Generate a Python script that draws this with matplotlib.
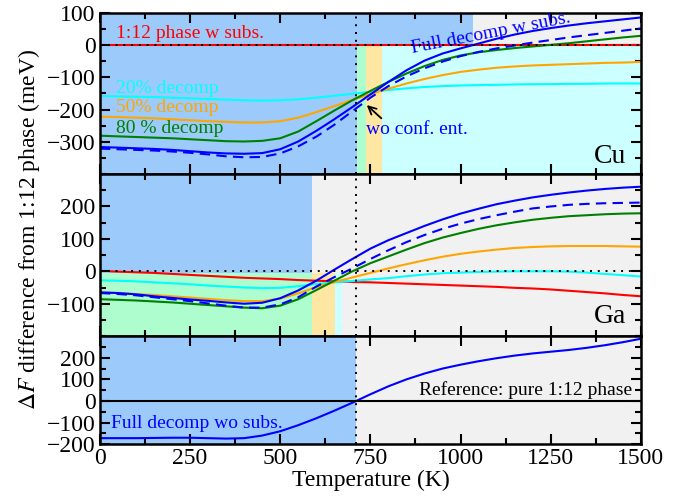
import matplotlib.pyplot as plt
from matplotlib.ticker import MultipleLocator

plt.rcParams['font.family'] = ['Liberation Serif', 'DejaVu Serif']
plt.rcParams['mathtext.fontset'] = 'stix'

# --- data (meV) ---
T = [0, 50, 100, 150, 200, 250, 300, 350, 400, 450, 500, 550, 600, 650, 700, 750,
     800, 850, 900, 950, 1000, 1050, 1100, 1150, 1200, 1250, 1300, 1350, 1400, 1450, 1500]
T_red = [30] + T[1:]

# Cu substitution
cu_red = [0] * len(T)
cu_20 = [-158, -159, -160, -161, -163, -165, -167, -169, -171, -172, -171, -168, -163, -157, -151, -145,
         -139, -134, -130, -127, -125, -124, -123, -122, -121, -121, -120, -120, -119, -119, -119]
cu_50 = [-222, -223, -225, -227, -230, -233, -236, -238, -240, -240, -236, -225, -208, -189, -170, -152,
         -135, -119, -105, -93, -83, -76, -70, -66, -63, -61, -59, -57, -55, -54, -52]
cu_80 = [-281, -283, -285, -287, -289, -292, -295, -298, -299, -297, -289, -268, -236, -203, -171, -142,
         -114, -88, -65, -46, -32, -22, -15, -9, -4, 1, 6, 12, 18, 24, 29]
cu_full = [-316, -318, -320, -322, -325, -329, -333, -336, -337, -335, -323, -299, -266, -230, -192, -153,
           -114, -78, -48, -26, -10, 5, 20, 33, 44, 53, 61, 68, 74, 80, 86]
cu_full_noconf = [-321, -323, -325, -327, -330, -334, -339, -345, -348, -347, -336, -314, -284, -247, -205, -163,
                  -127, -97, -72, -51, -34, -21, -10, -1, 8, 16, 24, 31, 38, 45, 52]

# Ga substitution
ga_red = [0, -1, -3, -5, -8, -11, -14, -17, -20, -22, -24, -27, -29, -31, -33, -34,
          -36, -38, -40, -42, -44, -46, -48, -51, -53, -56, -60, -64, -68, -73, -77]
ga_20 = [-28, -29, -31, -34, -37, -40, -44, -47, -50, -52, -51, -46, -39, -34, -30, -25,
         -21, -15, -10, -6, -4, -2, -1, 0, 0, 0, -1, -4, -8, -12, -16]
ga_50 = [-65, -67, -70, -73, -77, -81, -85, -89, -92, -92, -84, -68, -49, -33, -19, -5,
         9, 22, 34, 45, 54, 61, 67, 72, 75, 77, 78, 78, 78, 77, 76]
ga_80 = [-86, -88, -90, -93, -96, -100, -104, -108, -112, -114, -106, -86, -58, -29, 0, 25,
         46, 67, 87, 104, 118, 131, 142, 151, 159, 165, 170, 173, 176, 178, 179]
ga_full = [-65, -67, -71, -77, -82, -87, -91, -96, -100, -97, -83, -59, -29, 5, 38, 70,
           96, 118, 140, 160, 178, 193, 207, 218, 228, 236, 243, 249, 254, 258, 261]
ga_full_noconf = [-67, -70, -74, -80, -86, -92, -99, -106, -112, -112, -102, -80, -47, -18, 9, 38,
                  65, 90, 112, 131, 147, 161, 173, 184, 194, 200, 205, 208, 210, 211, 212]

# full decomposition without substitution
wo_full = [-172, -172, -172, -171, -170, -170, -172, -174, -172, -160, -140, -112, -80, -45, -8, 31,
           68, 100, 127, 150, 168, 184, 198, 210, 220, 228, 236, 246, 258, 272, 288]

T_c = 710  # transition temperature (dotted line)

# background regions: (x0, x1, y0, y1, colour)
BLUE, GRAY, GREEN, ORANGE, CYAN = '#9ccbfb', '#f1f1f1', '#adfdcf', '#fee6a3', '#ccffff'
cu_regions = [(0, 1034, 0, 100, BLUE), (1034, 1500, 0, 100, GRAY),
              (0, 712, -400, 0, BLUE), (712, 737, -400, 0, GREEN),
              (737, 781, -400, 0, ORANGE), (781, 1500, -400, 0, CYAN)]
ga_regions = [(0, 588, -5, 300, BLUE), (588, 1500, -5, 300, GRAY),
              (0, 588, -200, -5, GREEN), (588, 652, -200, -5, ORANGE),
              (652, 670, -200, -5, CYAN), (670, 1500, -200, -5, GRAY)]
wo_regions = [(0, T_c, -200, 300, BLUE), (T_c, 1500, -200, 300, GRAY)]

fig = plt.figure(figsize=(6.84, 4.98), dpi=100)
gs = fig.add_gridspec(3, 1, height_ratios=[161, 162, 108], hspace=0,
                      left=0.146, right=0.937, top=0.974, bottom=0.108)
axes = [fig.add_subplot(gs[i]) for i in range(3)]

lw = 1.5
for ax, regions in zip(axes, [cu_regions, ga_regions, wo_regions]):
    for x0, x1, y0, y1, c in regions:
        ax.fill_between([x0, x1], y0, y1, color=c, lw=0, zorder=0)
    ax.axvline(T_c, color='k', ls=(0, (1, 3)), lw=1.4, zorder=5)

# Cu panel
ax = axes[0]
ax.plot(T_red, cu_red, color='red', lw=lw)
ax.axhline(0, color='k', ls=(0, (1, 3)), lw=1.4, zorder=4)
ax.plot(T, cu_20, color='cyan', lw=lw)
ax.plot(T, cu_50, color='orange', lw=lw)
ax.plot(T, cu_80, color='green', lw=lw)
ax.plot(T, cu_full, color='blue', lw=lw)
ax.plot(T, cu_full_noconf, color='blue', lw=lw, ls=(0, (5, 3)))
ax.set_ylim(-400, 100)
ax.set_yticks([-300, -200, -100, 0, 100])
ax.text(45, 35, '1:12 phase w subs.', color='red', fontsize=14, va='center')
ax.text(45, -133, '20% decomp', color='cyan', fontsize=14, va='center')
ax.text(45, -194, '50% decomp', color='orange', fontsize=14, va='center')
ax.text(45, -258, '80 % decomp', color='green', fontsize=14, va='center')
ax.text(1085, 38, 'Full decomp w subs.', color='blue', fontsize=14, rotation=11,
        ha='center', va='center', rotation_mode='anchor')
ax.annotate('wo conf. ent.', xy=(740, -186), xytext=(738, -262), color='blue', fontsize=14,
            va='center', ha='left',
            arrowprops=dict(arrowstyle='->', color='k', lw=1.3, shrinkA=0, shrinkB=0,
                            relpos=(0.18, 1.0)))
ax.text(1458, -345, 'Cu', fontsize=20, ha='right', va='center')

# Ga panel
ax = axes[1]
ax.plot(T_red, ga_red, color='red', lw=lw)
ax.axhline(0, color='k', ls=(0, (1, 3)), lw=1.4, zorder=4)
ax.plot(T, ga_20, color='cyan', lw=lw)
ax.plot(T, ga_50, color='orange', lw=lw)
ax.plot(T, ga_80, color='green', lw=lw)
ax.plot(T, ga_full, color='blue', lw=lw)
ax.plot(T, ga_full_noconf, color='blue', lw=lw, ls=(0, (5, 3)))
ax.set_ylim(-200, 300)
ax.set_yticks([-100, 0, 100, 200])
ax.text(1458, -140, 'Ga', fontsize=20, ha='right', va='center')

# no-substitution panel
ax = axes[2]
ax.axhline(0, color='k', lw=1.5, zorder=4)
ax.plot(T, wo_full, color='blue', lw=lw)
ax.set_ylim(-200, 300)
ax.set_yticks([-200, -100, 0, 100, 200])
ax.text(32, -103, 'Full decomp wo subs.', color='blue', fontsize=14, va='center')
ax.text(1475, 50, 'Reference: pure 1:12 phase', color='k', fontsize=14, ha='right', va='center')
ax.set_xlabel('Temperature (K)', fontsize=17, labelpad=0)

for i, ax in enumerate(axes):
    ax.set_xlim(0, 1500)
    ax.xaxis.set_major_locator(MultipleLocator(250))
    ax.xaxis.set_minor_locator(MultipleLocator(125))
    ax.yaxis.set_minor_locator(MultipleLocator(50))
    ax.tick_params(which='both', direction='in', top=True, right=True, width=1.5, labelsize=17, pad=3)
    ax.tick_params(which='major', length=7)
    ax.tick_params(which='minor', length=4)
    for s in ax.spines.values():
        s.set_linewidth(1.8)
    if i < 2:
        ax.tick_params(labelbottom=False)

fig.text(0.042, 0.54, r'$\Delta F$ difference from 1:12 phase (meV)', rotation=90,
         fontsize=17, ha='center', va='center')

fig.savefig('out.png', dpi=100)
